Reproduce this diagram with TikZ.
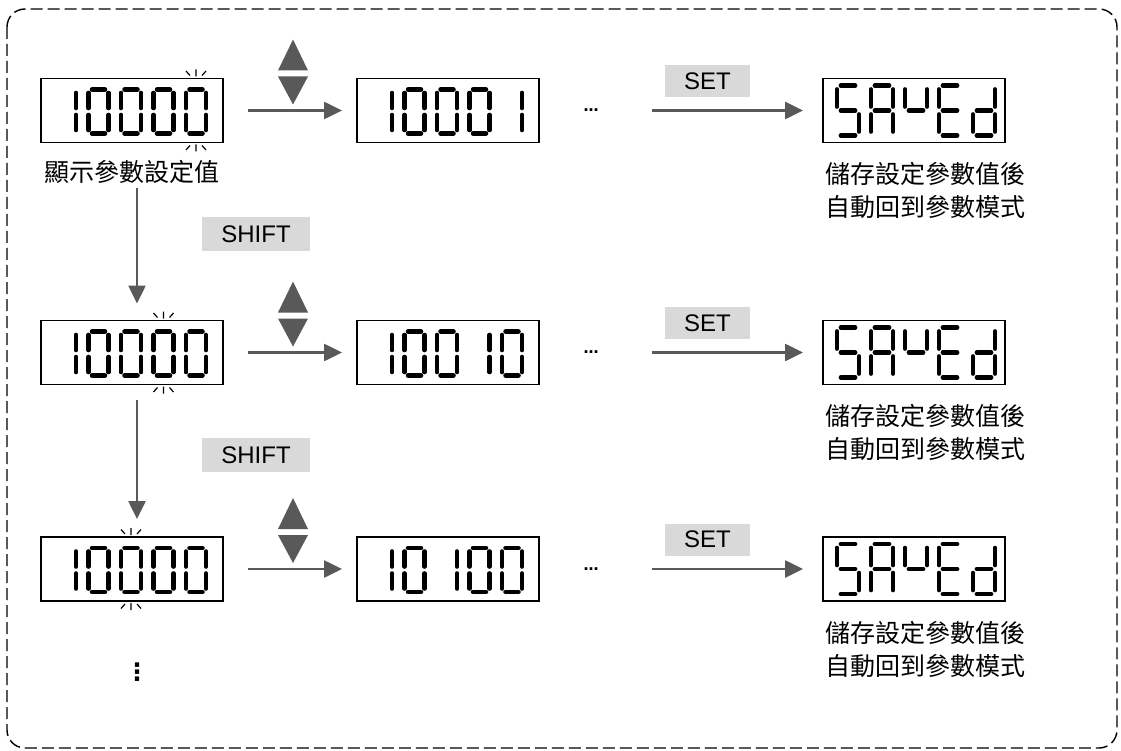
\documentclass[tikz,border=0pt]{standalone}
\usepackage{fontspec}
\setmainfont{Liberation Sans}
\newfontfamily\cjk{Noto Sans CJK TC}
\newfontfamily\symfont{DejaVu Sans}
\usetikzlibrary{arrows.meta, positioning, calc}
\definecolor{arrowgray}{RGB}{89, 89, 89}
\definecolor{keygray}{RGB}{217, 217, 217}

% seven segment pieces in a unit cell (y runs down)
\expandafter\def\csname lcdsega\endcsname{(0.18,0) -- (0.82,0)}
\expandafter\def\csname lcdsegb\endcsname{(1,0.08) -- (1,0.42)}
\expandafter\def\csname lcdsegc\endcsname{(1,0.58) -- (1,0.92)}
\expandafter\def\csname lcdsegd\endcsname{(0.18,1) -- (0.82,1)}
\expandafter\def\csname lcdsege\endcsname{(0,0.58) -- (0,0.92)}
\expandafter\def\csname lcdsegf\endcsname{(0,0.08) -- (0,0.42)}
\expandafter\def\csname lcdsegg\endcsname{(0.18,0.5) -- (0.82,0.5)}
% glyphs
\expandafter\def\csname glyph0\endcsname{a,b,c,d,e,f}
\expandafter\def\csname glyph1\endcsname{b,c}
\expandafter\def\csname glyphS\endcsname{a,f,g,c,d}
\expandafter\def\csname glyphA\endcsname{a,b,c,e,f,g}
\expandafter\def\csname glyphY\endcsname{f,g,b}
\expandafter\def\csname glyphE\endcsname{a,d,e,f,g}
\expandafter\def\csname glyphd\endcsname{b,c,d,e,g}

% node, left, pitch, top, width, height, glyph list
\newcommand{\lcdshow}[7]{%
  \foreach \g [count=\k from 0] in {#7} {
    \edef\glyphlist{\csname glyph\g\endcsname}
    \begin{scope}[shift={($(#1.north west)+(#2+\k*#3,#4)$)}, x=#5pt, y=-#6pt]
      \foreach \s in \glyphlist {
        \edef\segpath{\csname lcdseg\s\endcsname}
        \draw[segline] \segpath;
      }
    \end{scope}
  }}
\newcommand{\lcdnum}[2]{\lcdshow{#1}{15}{32.5}{11}{20}{44}{#2}}
\newcommand{\lcdword}[2]{\lcdshow{#1}{14}{34}{7}{22}{50}{#2}}

% blinking digit marks: node, cell
\newcommand{\blinkat}[2]{%
  \begin{scope}[shift={($(#1.north west)+(25+#2*32.5-32.5,0)$)}]
    \draw[blinkmark] (0,-9) -- (0,-2) (-10,-7.5) -- (-6,-3) (10,-7.5) -- (6,-3);
  \end{scope}
  \begin{scope}[shift={($(#1.south west)+(25+#2*32.5-32.5,0)$)}]
    \draw[blinkmark] (0,9) -- (0,2) (-10,7.5) -- (-6,3) (10,7.5) -- (6,3);
  \end{scope}}

\tikzset{
  lcdbox/.style={draw, line width=1.8pt, minimum width=182pt, minimum height=64pt, inner sep=0pt, outer sep=0pt},
  segline/.style={line width=4.7pt, line cap=round},
  blinkmark/.style={line width=1.2pt},
  keybox/.style={fill=keygray, font=\fontsize{24}{28}\selectfont, inner sep=0pt},
  flow/.style={draw=arrowgray, line width=2.6pt, -{Triangle[length=18pt, width=17pt]}},
  note/.style={font=\cjk\fontsize{25}{33}\selectfont, align=center, inner sep=0pt},
}

\begin{document}
\begin{tikzpicture}[x=1pt, y=-1pt]
  \useasboundingbox (0,0) rectangle (1121,751);
  \draw[line width=1.4pt, dash pattern=on 12pt off 5pt, rounded corners=18pt] (7,9) rectangle (1117,748);

  % displays
  \node[lcdbox] (val1) at (132,110.5) {};
  \node[lcdbox] (val2) at (132,352.5) {};
  \node[lcdbox] (val3) at (132,569) {};
  \node[lcdbox] (inc1) at (448,110.5) {};
  \node[lcdbox] (inc2) at (448,352.5) {};
  \node[lcdbox] (inc3) at (448,569) {};
  \node[lcdbox] (saved1) at (914,110.5) {};
  \node[lcdbox] (saved2) at (914,352.5) {};
  \node[lcdbox] (saved3) at (914,569) {};

  \lcdnum{inc1}{1,0,0,0,1}
  \lcdnum{inc2}{1,0,0,1,0}
  \lcdnum{inc3}{1,0,1,0,0}
  \blinkat{val1}{5}
  \blinkat{val2}{4}
  \blinkat{val3}{3}

  \foreach \n in {1,2,3} {
    \lcdnum{val\n}{1,0,0,0,0}
    \lcdword{saved\n}{S,A,Y,E,d}
    % up / down keys
    \fill[arrowgray, shift={($(val\n.east)+(70,0)$)}] (0,-71) -- (15,-40) -- (-15,-40) -- cycle
      (-15,-34) -- (15,-34) -- (0,-6) -- cycle;
    \draw[flow, shorten <=25pt, shorten >=15pt] (val\n.east) -- (inc\n.west);
    \node[font=\symfont\bfseries\fontsize{15}{18}\selectfont, inner sep=0pt] (more\n) at ($(inc\n.east)+(52,0)$) {…};
    \node[keybox, minimum width=85pt, minimum height=32pt] (set\n) at ($(inc\n.east)+(168.5,-29.5)$) {SET};
    \draw[flow, shorten <=53pt, shorten >=20pt] (more\n.east) -- (saved\n.west);
    \node[note, below=20pt of saved\n, xshift=11pt] (done\n) {儲存設定參數值後\\自動回到參數模式};
  }

  \node[note, below=18pt of val1] (shown) {顯示參數設定值};
  \node[keybox, minimum width=108pt, minimum height=34pt] (shift1) at (256,234) {SHIFT};
  \node[keybox, minimum width=108pt, minimum height=34pt] (shift2) at (256,455) {SHIFT};
  \draw[flow, shorten <=4pt, shorten >=17pt] ([xshift=5pt]shown.south) -- ([xshift=5pt]val2.north);
  \draw[flow, shorten <=15pt, shorten >=18pt] ([xshift=5pt]val2.south) -- ([xshift=5pt]val3.north);
  \node[font=\symfont\bfseries\fontsize{24}{26}\selectfont, inner sep=0pt] (rest) at (137,672) {⋮};
\end{tikzpicture}
\end{document}
